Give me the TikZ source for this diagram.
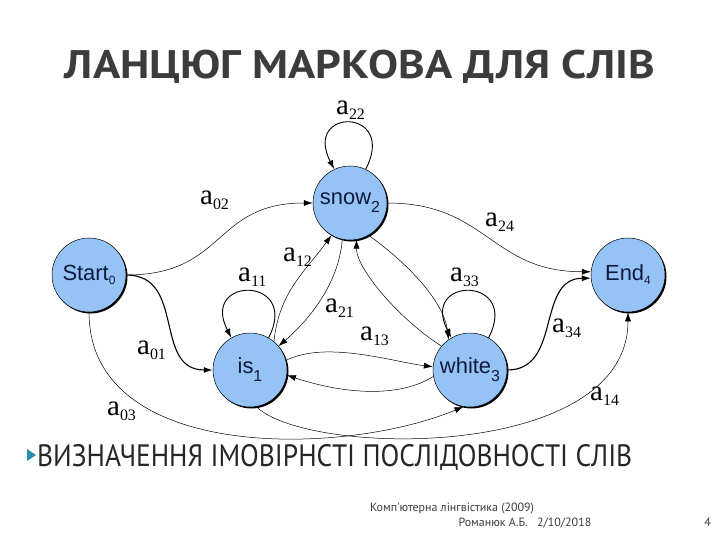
\documentclass[tikz,border=0pt]{standalone}
\usepackage{fontspec}
\setmainfont{Liberation Serif}
\newfontfamily\nodefont{Liberation Sans}
\newfontfamily\slidefont{PT Sans}
\usetikzlibrary{arrows.meta,shadows}
\definecolor{nodeblue}{RGB}{150,195,245}
\definecolor{nodetext}{RGB}{15,25,60}
\definecolor{titlegrey}{RGB}{60,60,60}
\definecolor{bullteal}{RGB}{40,140,170}
\definecolor{footgrey}{RGB}{60,60,60}
\newcommand\sub[1]{\raisebox{-8bp}{\fontsize{16}{16}\selectfont #1}}
\newcommand\smallsub[1]{\raisebox{-4bp}{\fontsize{12}{12}\selectfont #1}}
\newcommand\prob[1]{a\raisebox{-5bp}{\fontsize{16}{16}\selectfont #1}}
\begin{document}
\begin{tikzpicture}[x=1bp, y=-1bp,
  state/.style={circle, draw, line width=0.5bp, fill=nodeblue, minimum size=74bp, inner sep=0pt,
    text=nodetext, font=\nodefont\fontsize{22}{22}\selectfont,
    drop shadow={shadow xshift=1.5bp, shadow yshift=-1.5bp, opacity=1, fill=black}},
  prob/.style={font=\fontsize{29}{29}\selectfont, inner sep=0pt, anchor=base west},
  trans/.style={-{Latex[length=9bp,width=6bp]}, line width=0.5bp},
  heavy/.style={trans, line width=1.1bp},
  selfloop/.style={trans, line width=0.9bp},
  heading/.style={font=\slidefont\bfseries\fontsize{40}{40}\selectfont, inner sep=0pt, anchor=base},
  bodytext/.style={font=\slidefont\fontsize{31}{31}\selectfont, text=black!85, inner sep=0pt, anchor=base west},
  foot/.style={font=\slidefont\fontsize{12}{12}\selectfont, text=footgrey, inner sep=0pt}]
\useasboundingbox (0,0) rectangle (720,540);
% slide text
\node[heading, text=titlegrey] (title) at (360,79) {\resizebox{590bp}{\height}{ЛАНЦЮГ МАРКОВА ДЛЯ СЛІВ}};
\fill[bullteal] (27,449) -- (36,455) -- (27,461) -- cycle;
\node[bodytext] (bullet) at (37,466) {\resizebox{595bp}{\height}{ВИЗНАЧЕННЯ ІМОВІРНСТІ ПОСЛІДОВНОСТІ СЛІВ}};
\node[foot, anchor=base west] (course) at (370,511) {Комп'ютерна лінгвістика (2009)};
\node[foot, anchor=base east] (author) at (528,526) {Романюк А.Б.};
\node[foot, anchor=base west] (date) at (537,526) {2/10/2018};
\node[foot, anchor=base east] (page) at (711,526) {4};
% states
\node[state] (start) at (89,275) {Start\smallsub{0}};
\node[state] (snow) at (350,203) {snow\sub{2}};
\node[state] (stop) at (628,275) {End\smallsub{4}};
\node[state] (is) at (250,370) {is\sub{1}};
\node[state] (white) at (470,370) {white\sub{3}};
% transitions
\draw[selfloop] (snow.65) .. controls +(32,-62) and +(-32,-62) .. (snow.115);
\draw[selfloop] (is.60) .. controls +(32,-62) and +(-32,-62) .. (is.120);
\draw[selfloop] (white.60) .. controls +(32,-62) and +(-32,-62) .. (white.120);
\draw[trans] (start.east) .. controls +(100,0) and +(-100,0) .. (snow.west);
\draw[heavy] (start.east) .. controls +(60,0) and +(-60,0) .. (is.west);
\draw[trans] (start.south) .. controls +(0,150) and +(-120,50) .. (white.260);
\draw[trans] (is.280) .. controls +(50,50) and +(0,150) .. (stop.south);
\draw[trans] (is.50) .. controls +(5,-50) and +(-25,35) .. (snow.240);
\draw[trans] (snow.258) .. controls +(-3,40) and +(35,-30) .. (is.40);
\draw[trans] (white.140) .. controls +(-40,-25) and +(0,30) .. (snow.280);
\draw[trans] (snow.300) .. controls +(35,25) and +(-5,-40) .. (white.125);
\draw[trans] (is.15) .. controls +(40,-20) and +(-40,-5) .. (white.175);
\draw[trans] (white.190) .. controls +(-40,25) and +(45,15) .. (is.352);
\draw[trans] (snow.east) .. controls +(100,0) and +(-100,0) .. (stop.175);
\draw[heavy] (white.east) .. controls +(55,0) and +(-55,0) .. (stop.185);
% labels
\node[prob] (l22) at (336,115) {\prob{22}};
\node[prob] (l02) at (200,205) {\prob{02}};
\node[prob] (l24) at (485,227) {\prob{24}};
\node[prob] (l12) at (283,262) {\prob{12}};
\node[prob] (l11) at (238,282) {\prob{11}};
\node[prob] (l21) at (325,312) {\prob{21}};
\node[prob] (l33) at (450,282) {\prob{33}};
\node[prob] (l13) at (360,340) {\prob{13}};
\node[prob] (l34) at (552,332) {\prob{34}};
\node[prob] (l01) at (137,354) {\prob{01}};
\node[prob] (l03) at (107,415) {\prob{03}};
\node[prob] (l14) at (590,400) {\prob{14}};
\end{tikzpicture}
\end{document}
